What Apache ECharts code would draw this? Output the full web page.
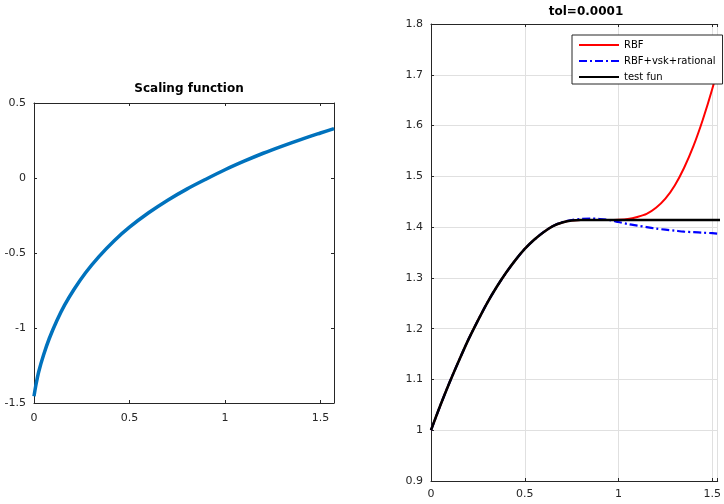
<!DOCTYPE html>
<html>
<head>
<meta charset="utf-8">
<script src="https://cdn.jsdelivr.net/npm/echarts@6/dist/echarts.min.js"></script>
<style>
html,body{margin:0;padding:0;background:#fff;}
#chart{width:724px;height:504px;}
</style>
</head>
<body>
<div id="chart"></div>
<script>
// ---------- data ----------
var scaleX = [0, 0.01, 0.025, 0.05, 0.08, 0.12, 0.16, 0.21, 0.27, 0.34, 0.42, 0.5, 0.6, 0.7, 0.8, 0.9, 1.0, 1.1, 1.2, 1.3, 1.4, 1.5, 1.5708];
var scaleY = [-1.455, -1.38, -1.29, -1.18, -1.07, -0.95, -0.848, -0.742, -0.632, -0.524, -0.418, -0.328, -0.232, -0.148, -0.074, -0.008, 0.055, 0.112, 0.165, 0.213, 0.258, 0.300, 0.329];

var testX = [0, 0.05, 0.1, 0.15, 0.2, 0.25, 0.3, 0.35, 0.4, 0.45, 0.5, 0.55, 0.6, 0.65, 0.7, 0.75, 0.8, 1.0, 1.5708];
var testY = [1.0, 1.049, 1.095, 1.138, 1.179, 1.216, 1.251, 1.282, 1.310, 1.335, 1.357, 1.375, 1.390, 1.402, 1.409, 1.413, 1.414, 1.414, 1.414];

var rbfX = [0, 0.05, 0.1, 0.15, 0.2, 0.25, 0.3, 0.35, 0.4, 0.45, 0.5, 0.55, 0.6, 0.65, 0.7, 0.75, 0.8, 0.85, 0.9, 0.95, 1.0, 1.05, 1.1, 1.15, 1.2, 1.25, 1.3, 1.35, 1.4, 1.45, 1.5, 1.55, 1.5708];
var rbfY = [1.0, 1.049, 1.095, 1.138, 1.179, 1.216, 1.251, 1.282, 1.310, 1.335, 1.357, 1.375, 1.390, 1.402, 1.409, 1.413, 1.414, 1.414, 1.414, 1.414, 1.4145, 1.416, 1.420, 1.426, 1.438, 1.456, 1.482, 1.517, 1.560, 1.612, 1.672, 1.740, 1.770];

var vskX = [0, 0.05, 0.1, 0.15, 0.2, 0.25, 0.3, 0.35, 0.4, 0.45, 0.5, 0.55, 0.6, 0.65, 0.7, 0.75, 0.8, 0.85, 0.9, 0.95, 1.0, 1.05, 1.1, 1.15, 1.2, 1.25, 1.3, 1.35, 1.4, 1.45, 1.5, 1.5708];
var vskY = [1.0, 1.049, 1.095, 1.138, 1.179, 1.216, 1.251, 1.282, 1.310, 1.335, 1.357, 1.375, 1.390, 1.402, 1.410, 1.414, 1.416, 1.417, 1.416, 1.414, 1.410, 1.406, 1.403, 1.400, 1.397, 1.395, 1.393, 1.391, 1.390, 1.389, 1.388, 1.386];

var xTickLabels = [0, 0.5, 1, 1.5];
var leftYTicks = [-1.5, -1, -0.5, 0, 0.5];
var rightYTicks = [0.9, 1, 1.1, 1.2, 1.3, 1.4, 1.5, 1.6, 1.7, 1.8];

var seriesNames = ['RBF', 'RBF+vsk+rational', 'test fun'];
var titles = ['Scaling function', 'tol=0.0001'];

// ---------- chart ----------
function pairs(xs, ys){ var out=[]; for (var i=0;i<xs.length;i++) out.push([xs[i], ys[i]]); return out; }
function fmtFrom(list){
  return function(v){
    for (var i=0;i<list.length;i++){ if (Math.abs(list[i]-v) < 1e-6) return String(list[i]); }
    return '';
  };
}
var FONT = 'DejaVu Sans';
var AX = '#262626';
var XMAX = Math.PI / 2;
// the right panel is cut by the page edge: its visible part ends at 293 of 301 px
var XMAX_RIGHT_VISIBLE = XMAX * 293 / 301;

function xAx(grid, pos, show, withGrid, margin, mx){
  return {
    type: 'value', gridIndex: grid, position: pos, min: 0, max: mx, interval: 0.5,
    axisLine: {show: true, onZero: false, lineStyle: {color: AX, width: 1}},
    axisTick: {show: true, inside: true, length: 3, lineStyle: {color: AX}},
    axisLabel: {show: show, margin: margin, formatter: fmtFrom(xTickLabels), color: AX, fontFamily: FONT, fontSize: 11},
    splitLine: {show: withGrid, lineStyle: {color: '#e0e0e0', width: 1}}
  };
}
function yAx(grid, pos, show, withGrid, mn, mx, iv, ticks, lineShow){
  return {
    type: 'value', gridIndex: grid, position: pos, min: mn, max: mx, interval: iv,
    axisLine: {show: lineShow, onZero: false, lineStyle: {color: AX, width: 1}},
    axisTick: {show: lineShow, inside: true, length: 3, lineStyle: {color: AX}},
    axisLabel: {show: show, margin: 8, formatter: fmtFrom(ticks), color: AX, fontFamily: FONT, fontSize: 11},
    splitLine: {show: withGrid, lineStyle: {color: '#e0e0e0', width: 1}}
  };
}

var chart = echarts.init(document.getElementById('chart'), null, {renderer: 'canvas'});
var option = {
  animation: false,
  backgroundColor: '#ffffff',
  title: [
    {text: titles[0], left: 184, top: 78, textAlign: 'center',
     textStyle: {fontFamily: FONT, fontSize: 12, fontWeight: 'bold', color: '#000'}},
    {text: titles[1], left: 581, top: 1, textAlign: 'center',
     textStyle: {fontFamily: FONT, fontSize: 12, fontWeight: 'bold', color: '#000'}}
  ],
  grid: [
    {left: 34, width: 300, top: 103, height: 300, containLabel: false},
    {left: 431, right: 0, top: 24, height: 457, containLabel: false}
  ],
  xAxis: [
    xAx(0, 'bottom', true, false, 10, XMAX),
    xAx(0, 'top', false, false, 10, XMAX),
    xAx(1, 'bottom', true, true, 8, XMAX_RIGHT_VISIBLE),
    xAx(1, 'top', false, false, 8, XMAX_RIGHT_VISIBLE)
  ],
  yAxis: [
    yAx(0, 'left', true, false, -1.5, 0.5, 0.5, leftYTicks, true),
    yAx(0, 'right', false, false, -1.5, 0.5, 0.5, leftYTicks, true),
    yAx(1, 'left', true, true, 0.9, 1.8, 0.1, rightYTicks, true),
    yAx(1, 'right', false, false, 0.9, 1.8, 0.1, rightYTicks, false)
  ],
  legend: {
    data: seriesNames,
    orient: 'vertical',
    left: 572, top: 35,
    backgroundColor: '#ffffff',
    borderColor: AX, borderWidth: 1, borderRadius: 0,
    padding: [5, 7, 2, 6],
    itemWidth: 40, itemHeight: 12, itemGap: 6,
    itemStyle: {opacity: 0},
    textStyle: {fontFamily: FONT, fontSize: 10, color: '#000'}
  },
  series: [
    {name: 'scaling', type: 'line', xAxisIndex: 0, yAxisIndex: 0, data: pairs(scaleX, scaleY),
     showSymbol: false, symbol: 'none', smooth: 0.3,
     lineStyle: {color: '#0072BD', width: 3.5}, itemStyle: {color: '#0072BD'}, z: 3},
    {name: seriesNames[0], type: 'line', xAxisIndex: 2, yAxisIndex: 2, data: pairs(rbfX, rbfY),
     showSymbol: false, symbol: 'none', smooth: 0.3,
     lineStyle: {color: '#ff0000', width: 2}, itemStyle: {color: '#ff0000'}, z: 3},
    {name: seriesNames[1], type: 'line', xAxisIndex: 2, yAxisIndex: 2, data: pairs(vskX, vskY),
     showSymbol: false, symbol: 'none', smooth: 0.3,
     lineStyle: {color: '#0000ff', width: 2.2, type: [8, 3, 2, 3]}, itemStyle: {color: '#0000ff'}, z: 4},
    {name: seriesNames[2], type: 'line', xAxisIndex: 2, yAxisIndex: 2, data: pairs(testX, testY),
     showSymbol: false, symbol: 'none', smooth: 0.3,
     lineStyle: {color: '#000000', width: 2.6}, itemStyle: {color: '#000000'}, z: 5}
  ]
};
chart.setOption(option);
</script>
</body>
</html>
